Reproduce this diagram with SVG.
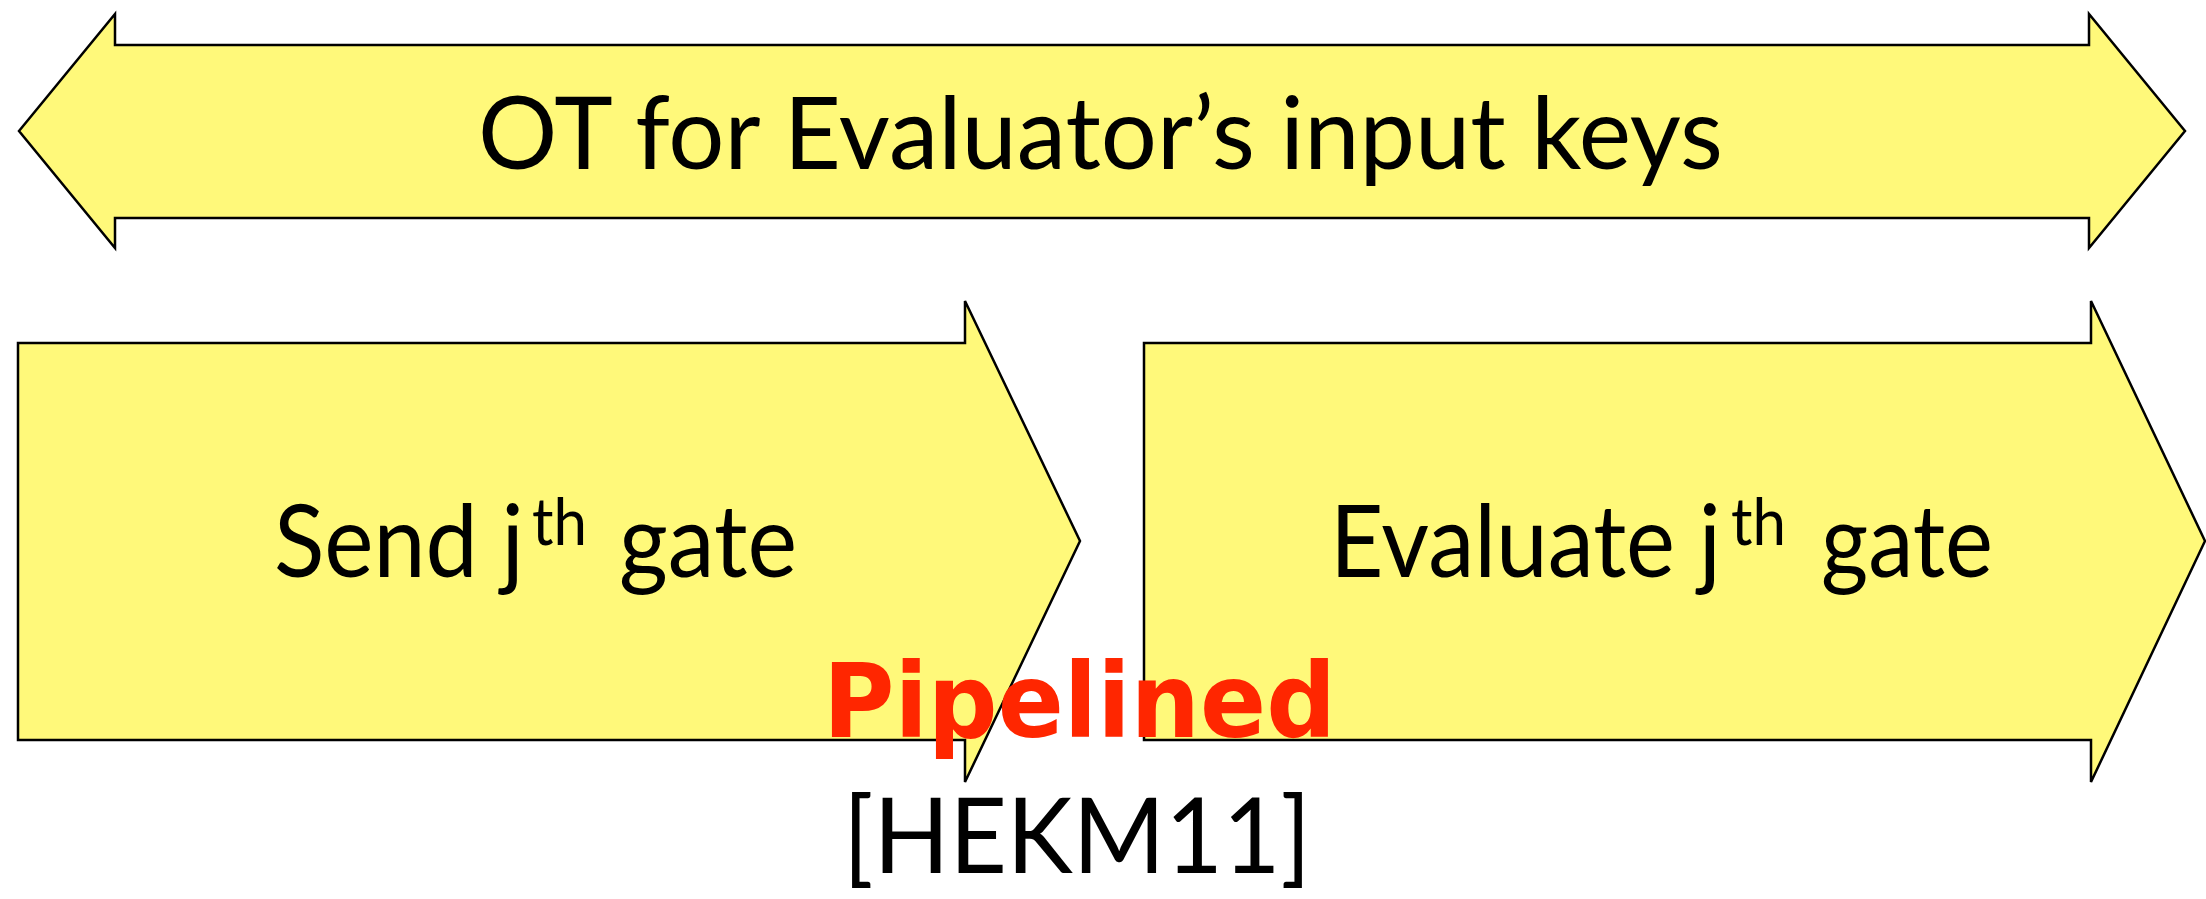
<svg xmlns="http://www.w3.org/2000/svg" width="2206" height="899" viewBox="0 0 2206 899">
  <style>
    .shape { fill: #FFF97A; stroke: #000; stroke-width: 2.5; stroke-linejoin: miter; }
    .lbl { font-family: Lato, "Open Sans", "Liberation Sans", sans-serif; fill: #000; }
    .main { font-size: 100px; }
    .sup { font-size: 65px; }
    .red { font-family: "DejaVu Sans Condensed", "DejaVu Sans", sans-serif; font-weight: bold; font-size: 104px; fill: #FF2600; }
  </style>
  <rect width="2206" height="899" fill="#FFFFFF"/>
  <g id="ot-arrow">
    <polygon class="shape" points="19,131 115,14 115,45 2089,45 2089,14 2185,131 2089,248 2089,218 115,218 115,248"/>
    <text class="lbl main" x="478" y="169" textLength="1245" lengthAdjust="spacingAndGlyphs">OT for Evaluator’s input keys</text>
  </g>
  <g id="send-gate">
    <polygon class="shape" points="18,343 965,343 965,301 1080,541 965,782 965,740 18,740"/>
    <text class="lbl main" x="274" y="577"><tspan textLength="250" lengthAdjust="spacingAndGlyphs">Send j</tspan><tspan class="sup" x="532" y="545" textLength="55" lengthAdjust="spacingAndGlyphs">th</tspan><tspan x="619" y="577" textLength="178" lengthAdjust="spacingAndGlyphs">gate</tspan></text>
  </g>
  <g id="evaluate-gate">
    <polygon class="shape" points="1144,343 2091,343 2091,301 2205,541 2091,782 2091,740 1144,740"/>
    <text class="lbl main" x="1330" y="577"><tspan textLength="391" lengthAdjust="spacingAndGlyphs">Evaluate j</tspan><tspan class="sup" x="1731" y="545" textLength="55" lengthAdjust="spacingAndGlyphs">th</tspan><tspan x="1821" y="577" textLength="172" lengthAdjust="spacingAndGlyphs">gate</tspan></text>
  </g>
  <g id="connectors"></g>
  <g id="annotations">
    <text class="red" x="823" y="737" textLength="513" lengthAdjust="spacingAndGlyphs">Pipelined</text>
    <text class="lbl" x="843" y="873" font-size="104" textLength="468" lengthAdjust="spacingAndGlyphs">[HEKM11]</text>
  </g>
</svg>
